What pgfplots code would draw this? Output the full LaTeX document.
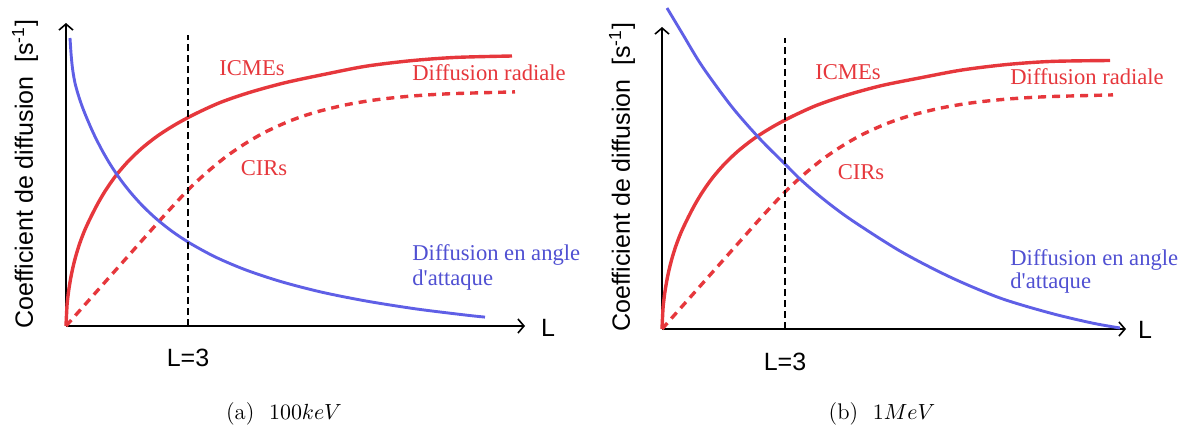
\documentclass[border=0pt]{standalone}
\usepackage{fontspec}
\usepackage{pgfplots}
\pgfplotsset{compat=1.18}
\usetikzlibrary{arrows.meta}
\newfontfamily\tnr{Liberation Serif}
\newfontfamily\arial{Liberation Sans}
\definecolor{cred}{RGB}{230,55,60}
\definecolor{cblue}{RGB}{95,95,230}
\definecolor{tblue}{RGB}{80,80,210}

\pgfplotsset{
 panel/.style={
  x=0.5pt, y=0.5pt, xmin=0, ymin=0, clip=false, axis lines=left,
  xtick=\empty, ytick=\empty, enlargelimits=false,
  axis line style={line width=0.8pt, -{Straight Barb[length=3pt,width=7pt,line width=0.8pt]}},
  anchor=origin,
 },
}
\tikzset{
 icme/.style={cred, line width=1.7pt, smooth, tension=0.5},
 cir/.style={cred, line width=1.7pt, smooth, tension=0.5, dash pattern=on 4pt off 3pt},
 pad/.style={cblue, line width=1.45pt, smooth, tension=0.5},
 lthree/.style={black, line width=1.4pt, dash pattern=on 3.5pt off 2pt},
 rlab/.style={text=cred, font=\tnr\fontsize{11.3}{13}\selectfont, inner sep=0pt},
 blab/.style={text=tblue, font=\tnr\fontsize{11.3}{13}\selectfont, inner sep=0pt, anchor=west},
 slab/.style={font=\arial\fontsize{12.5}{14}\selectfont, inner sep=0pt},
 captxt/.style={font=\fontsize{11.3}{13}\selectfont, inner sep=0pt},
}

\begin{document}
\begin{tikzpicture}
\path[use as bounding box] (0,0) rectangle (589.5pt,212pt);

% ---------- panel (a) ----------
\begin{axis}[panel, at={(33pt,49pt)}, xmax=459, ymax=303]
\addplot[icme, no markers] coordinates {(0,0)(1,20.5)(2,30)(3,37.6)(5,49.4)(7,58.9)(10,70.7)(14,83.4)(19,96.4)(25,109.2)(32,122.8)(40,136.3)(50,150.5)(62,164.5)(76,177.9)(92,190.4)(110,201.8)(130,212.5)(155,223.8)(185,234)(220,243.5)(260,252)(300,259.8)(345,265.3)(390,268.6)(446,270)};
\addplot[cir, no markers] coordinates {(0,0)(20,22.5)(40,45)(60,67.5)(80,90)(100,112.4)(122,136)(140,152.9)(160,169.3)(180,182.9)(200,194.3)(225,205.5)(250,213.9)(280,221.2)(310,226.2)(345,229.9)(385,232.3)(449,234.1)};
\addplot[pad, no markers] coordinates {(4,288)(5,273)(6,262)(7,254)(9,243)(12,232)(16,220)(20,209.8)(25,198.1)(30,187.4)(37,174)(45,160.4)(55,145.7)(65,133)(77,119.7)(91,106.6)(107,94)(125,82.2)(150,68.7)(180,56)(215,44.4)(255,34)(300,25)(350,17.1)(400,10.9)(419,8.9)};
\addplot[lthree, no markers] coordinates {(122,0)(122,291)};
\node[rlab] at (axis cs:186,258) {ICMEs};
\node[rlab, anchor=west] at (axis cs:346,253) {Diffusion radiale};
\node[rlab] at (axis cs:198,158) {CIRs};
\node[blab] at (axis cs:346,71) {Diffusion en angle};
\node[blab] at (axis cs:346,46) {d'attaque};
\node[slab, rotate=90] at (axis cs:-41,152) {Coefficient de diffusion\ \ [s\textsuperscript{-1}]};
\node[slab] at (axis cs:122,-32) {L=3};
\node[slab] at (axis cs:482,-2) {L};
\node[captxt] at (axis cs:218,-88) {(a)\hspace{0.65em}$100keV$};
\end{axis}

% ---------- panel (b) ----------
\begin{axis}[panel, at={(331pt,47.5pt)}, xmax=464, ymax=302]
\addplot[icme, no markers] coordinates {(0,0)(1,20.5)(2,30)(3,37.6)(5,49.4)(7,58.9)(10,70.7)(14,83.4)(19,96.4)(25,109.2)(32,122.8)(40,136.3)(50,150.5)(62,164.5)(76,177.9)(92,190.4)(110,201.8)(130,212.5)(155,223.8)(185,234)(220,243.5)(260,251.5)(300,259)(345,264.5)(390,267.6)(448,268.5)};
\addplot[cir, no markers] coordinates {(0,0)(20,22.5)(40,45)(60,67.5)(80,90)(100,112.4)(122,136)(140,152.9)(160,169.3)(180,182.9)(200,194.3)(225,205.5)(250,213.9)(280,221.2)(310,226.2)(345,229.9)(385,232.3)(451,234.1)};
\addplot[pad, no markers] coordinates {(5,321)(20,296)(40,263)(70,222)(98,190)(123,165)(138,150)(160,131)(188,110)(238,78)(288,52)(338,31)(388,16)(430,6)(458,1)};
\addplot[lthree, no markers] coordinates {(123,0)(123,291)};
\node[rlab] at (axis cs:186,257) {ICMEs};
\node[rlab, anchor=west] at (axis cs:348,252) {Diffusion radiale};
\node[rlab] at (axis cs:199,157) {CIRs};
\node[blab] at (axis cs:348,69) {Diffusion en angle};
\node[blab] at (axis cs:348,46) {d'attaque};
\node[slab, rotate=90] at (axis cs:-40,152) {Coefficient de diffusion\ \ [s\textsuperscript{-1}]};
\node[slab] at (axis cs:123,-33) {L=3};
\node[slab] at (axis cs:483,-1) {L};
\node[captxt] at (axis cs:220,-85) {(b)\hspace{0.65em}$1MeV$};
\end{axis}
\end{tikzpicture}
\end{document}
